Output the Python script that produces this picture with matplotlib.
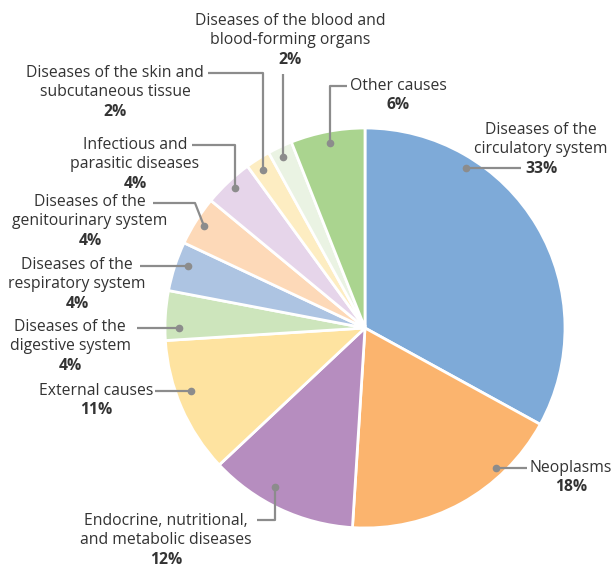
import matplotlib
matplotlib.use("Agg")

import matplotlib.pyplot as plt

# data (clockwise from 12 o'clock)
names = [
    "Diseases of the\ncirculatory system",
    "Neoplasms",
    "Endocrine, nutritional,\nand metabolic diseases",
    "External causes",
    "Diseases of the\ndigestive system",
    "Diseases of the\nrespiratory system",
    "Diseases of the\ngenitourinary system",
    "Infectious and\nparasitic diseases",
    "Diseases of the skin and\nsubcutaneous tissue",
    "Diseases of the blood and\nblood-forming organs",
    "Other causes",
]
shares = [33, 18, 12, 11, 4, 4, 4, 4, 2, 2, 6]
colors = ["#7eaad8", "#fbb46e", "#b68dbf", "#fee3a0", "#cde5bc", "#adc4e2",
          "#fdd9b8", "#e6d5ea", "#fdedc2", "#eaf3e3", "#aad48f"]

W, H = 615, 567


def P(x, y):
    # pixel coords (origin top-left) -> data coords
    return x, H - y


# label layout, pixel coords: leader path (dot first), text centre x, first line y
layout = [
    dict(path=[(466, 168), (521, 168)], tx=541, ty=130),
    dict(path=[(496, 468), (527, 468)], tx=571, ty=468),
    dict(path=[(275, 487), (275, 520), (257, 520)], tx=166, ty=521),
    dict(path=[(191, 391), (155, 391)], tx=96, ty=391),
    dict(path=[(179, 328), (137, 328)], tx=70, ty=327),
    dict(path=[(188, 266), (140, 266)], tx=77, ty=265),
    dict(path=[(204, 226), (195, 203), (153, 203)], tx=90, ty=202),
    dict(path=[(235, 188), (235, 145), (192, 145)], tx=135, ty=145),
    dict(path=[(263, 170), (263, 73), (208, 73)], tx=115, ty=73),
    dict(path=[(283, 157), (283, 74)], tx=290, ty=21),
    dict(path=[(330, 143), (330, 86), (347, 86)], tx=398, ty=86),
]

plt.rcParams['font.family'] = ['Open Sans', 'DejaVu Sans']
text_col = "#333333"
line_col = "#8c8c8c"
fs = 11.3
lh = 19.3

fig = plt.figure(figsize=(W / 100, H / 100), dpi=100)
ax = fig.add_axes([0, 0, 1, 1])

ax.pie(shares, colors=colors, startangle=90, counterclock=False,
       center=P(365, 328), radius=200,
       wedgeprops=dict(edgecolor='white', linewidth=2))

ax.set_xlim(0, W)
ax.set_ylim(0, H)
ax.set_aspect('equal')
ax.axis('off')

for name, pct, lay in zip(names, shares, layout):
    xs = [p[0] for p in lay['path']]
    ys = [H - p[1] for p in lay['path']]
    ax.plot(xs, ys, color=line_col, lw=1.6, solid_capstyle='butt', zorder=3)
    ax.plot(xs[0], ys[0], 'o', color=line_col, ms=4.5, zorder=4)
    lines = name.split("\n")
    for i, ln in enumerate(lines):
        ax.text(lay['tx'], H - (lay['ty'] + i * lh), ln, ha='center', va='center',
                fontsize=fs, color=text_col)
    ax.text(lay['tx'], H - (lay['ty'] + len(lines) * lh), f"{pct}%", ha='center',
            va='center', fontsize=fs, color=text_col, fontweight='bold')

fig.savefig("out.png", dpi=100)
